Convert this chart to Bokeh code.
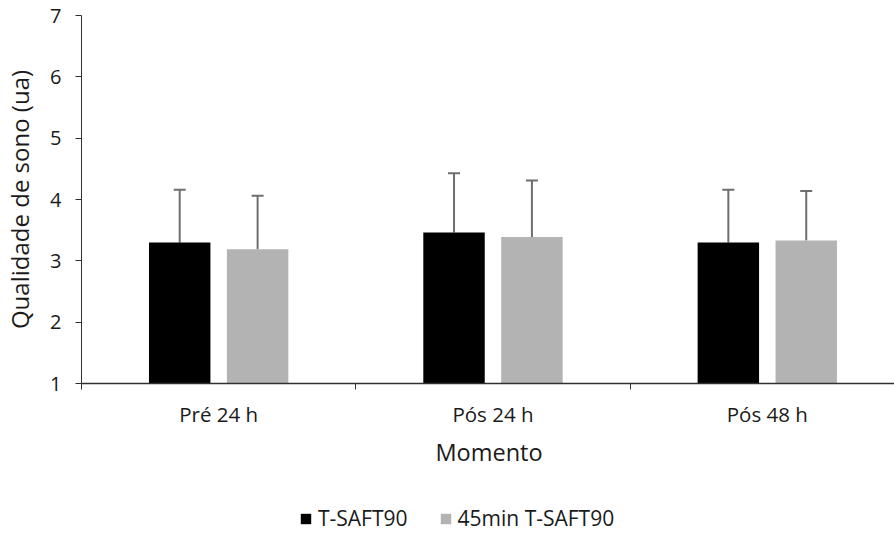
from bokeh.plotting import figure
from bokeh.layouts import column
from bokeh.models import (ColumnDataSource, Range1d, FixedTicker, Whisker,
                          Legend, LegendItem)
from bokeh.embed import file_html
from bokeh.resources import INLINE

# ---- data ----
categories = ["Pré 24 h", "Pós 24 h", "Pós 48 h"]
series_names = ["T-SAFT90", "45min T-SAFT90"]
tsaft_mean = [3.30, 3.46, 3.30]
tsaft_sd = [0.86, 0.97, 0.86]
t45_mean = [3.19, 3.39, 3.33]
t45_sd = [0.87, 0.92, 0.81]
y_ticks = [1, 2, 3, 4, 5, 6, 7]

FONT = "Open Sans"
TXT = "#1a1a1a"
AXC = "#303030"
COL_A = "#000000"
COL_B = "#b3b3b3"

idx = list(range(len(categories)))
off = 0.142
bw = 0.224

src_a = ColumnDataSource(dict(
    x=[i - off for i in idx], top=tsaft_mean,
    up=[m + s for m, s in zip(tsaft_mean, tsaft_sd)]))
src_b = ColumnDataSource(dict(
    x=[i + off for i in idx], top=t45_mean,
    up=[m + s for m, s in zip(t45_mean, t45_sd)]))

p = figure(output_backend="svg", toolbar_location=None,
           x_range=Range1d(-0.5, 2.471), y_range=Range1d(1, 7),
           frame_width=815, frame_height=368,
           min_border_left=79, min_border_right=0, min_border_top=15,
           min_border_bottom=100)
p.outline_line_color = None
p.grid.grid_line_color = None
p.background_fill_color = "white"
p.border_fill_color = "white"

p.vbar(x="x", top="top", bottom=1, width=bw, source=src_a,
       fill_color=COL_A, line_color=None)
p.vbar(x="x", top="top", bottom=1, width=bw, source=src_b,
       fill_color=COL_B, line_color=None)

for s in (src_a, src_b):
    w = Whisker(base="x", lower="top", upper="up", source=s,
                line_color="#6e6e6e", line_width=2, lower_head=None)
    w.upper_head.size = 12
    w.upper_head.line_color = "#6e6e6e"
    w.upper_head.line_width = 2
    p.add_layout(w)

# y axis
ya = p.yaxis[0]
ya.ticker = FixedTicker(ticks=y_ticks)
ya.minor_tick_line_color = None
ya.major_tick_out = 6
ya.major_tick_in = 0
ya.axis_line_color = AXC
ya.major_tick_line_color = AXC
ya.major_label_text_font = FONT
ya.major_label_text_font_size = "20px"
ya.major_label_text_color = TXT
ya.major_label_standoff = 14
ya.axis_label = "Qualidade de sono (ua)"
ya.axis_label_text_font = FONT
ya.axis_label_text_font_size = "24px"
ya.axis_label_text_font_style = "normal"
ya.axis_label_text_color = TXT
ya.axis_label_standoff = 11

# x axis
xa = p.xaxis[0]
xa.ticker = FixedTicker(ticks=idx, minor_ticks=[-0.5, 0.5, 1.5, 2.5])
xa.major_label_overrides = {i: c for i, c in zip(idx, categories)}
xa.major_tick_out = 0
xa.major_tick_in = 0
xa.minor_tick_out = 6
xa.minor_tick_in = 0
xa.minor_tick_line_color = AXC
xa.axis_line_color = AXC
xa.axis_line_width = 1.5
xa.major_label_text_font = FONT
xa.major_label_text_font_size = "20.5px"
xa.major_label_text_color = TXT
xa.major_label_standoff = 10
xa.axis_label = "Momento"
xa.axis_label_text_font = FONT
xa.axis_label_text_font_size = "23.5px"
xa.axis_label_text_font_style = "normal"
xa.axis_label_text_color = TXT
xa.axis_label_standoff = 5

# ---- legend strip below the chart ----
lg = figure(width=894, height=52, output_backend="svg", toolbar_location=None,
            x_axis_type=None, y_axis_type=None,
            x_range=Range1d(0, 1), y_range=Range1d(0, 1),
            min_border_left=0, min_border_right=0, min_border_top=0,
            min_border_bottom=0)
lg.outline_line_color = None
lg.grid.grid_line_color = None
# legend swatches: same styles as the bars, their data lying outside this strip's view
la = lg.vbar(x=[-5], top=[-5], bottom=-6, width=0.5,
             fill_color=COL_A, line_color=None)
lb = lg.vbar(x=[-5], top=[-5], bottom=-6, width=0.5,
             fill_color=COL_B, line_color=None)

legend = Legend(items=[LegendItem(label=series_names[0], renderers=[la]),
                       LegendItem(label=series_names[1], renderers=[lb])],
                orientation="horizontal", location=(218, 3),
                border_line_color=None, background_fill_alpha=0,
                glyph_width=13, glyph_height=13, label_text_font=FONT,
                label_text_font_size="21px", label_text_color=TXT,
                spacing=31, label_standoff=6, margin=0, padding=0)
legend.label_height = 24
lg.add_layout(legend, "center")

layout = column(p, lg, spacing=0)
html = file_html(layout, INLINE)
open("out.html", "w").write(html)
